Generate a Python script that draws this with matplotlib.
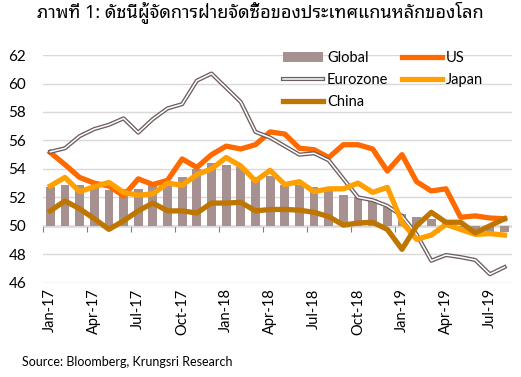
import matplotlib
matplotlib.use("Agg")
import matplotlib.pyplot as plt
import matplotlib.lines as mlines
import numpy as np

months = ["Jan-17", "Feb-17", "Mar-17", "Apr-17", "May-17", "Jun-17", "Jul-17", "Aug-17",
          "Sep-17", "Oct-17", "Nov-17", "Dec-17", "Jan-18", "Feb-18", "Mar-18", "Apr-18",
          "May-18", "Jun-18", "Jul-18", "Aug-18", "Sep-18", "Oct-18", "Nov-18", "Dec-18",
          "Jan-19", "Feb-19", "Mar-19", "Apr-19", "May-19", "Jun-19", "Jul-19", "Aug-19"]

global_pmi = [52.7, 52.9, 52.9, 52.7, 52.5, 52.6, 52.6, 53.1, 53.1, 53.4, 54.0, 54.4,
              54.3, 54.1, 53.4, 53.5, 52.9, 52.9, 52.7, 52.5, 52.2, 52.0, 51.9, 51.3,
              50.8, 50.6, 50.5, 50.4, 49.9, 49.7, 49.6, 49.6]
us = [55.15, 54.3, 53.4, 53.0, 52.8, 52.1, 53.3, 52.9, 53.2, 54.7, 54.1, 55.0,
      55.6, 55.4, 55.7, 56.6, 56.45, 55.45, 55.35, 54.8, 55.7, 55.7, 55.4, 53.85,
      55.0, 53.1, 52.45, 52.6, 50.6, 50.7, 50.55, 50.5]
eurozone = [55.2, 55.45, 56.3, 56.8, 57.1, 57.55, 56.55, 57.5, 58.25, 58.55, 60.2, 60.7,
            59.7, 58.7, 56.6, 56.2, 55.6, 55.0, 55.1, 54.6, 53.3, 52.0, 51.8, 51.4,
            50.7, 49.4, 47.55, 47.95, 47.8, 47.6, 46.6, 47.1]
japan = [52.8, 53.4, 52.4, 52.75, 53.05, 52.35, 52.15, 52.25, 53.0, 52.85, 53.6, 54.0,
         54.8, 54.2, 53.15, 53.9, 52.9, 53.1, 52.4, 52.6, 52.6, 53.0, 52.35, 52.7,
         50.25, 49.05, 49.35, 50.1, 49.75, 49.4, 49.45, 49.35]
china = [51.05, 51.75, 51.2, 50.5, 49.75, 50.35, 51.05, 51.6, 51.05, 51.05, 50.9, 51.6,
         51.6, 51.65, 51.05, 51.15, 51.15, 51.1, 50.95, 50.65, 50.05, 50.2, 50.25, 49.75,
         48.35, 50.0, 50.95, 50.25, 50.25, 49.5, 50.0, 50.5]

title = "ภาพที่ 1: ดัชนีผู้จัดการฝ่ายจัดซื้อของประเทศแกนหลักของโลก"
source = "Source: Bloomberg, Krungsri Research"

plt.rcParams["font.family"] = ["Lato", "DejaVu Sans"]

fig = plt.figure(figsize=(5.21, 3.77), dpi=100)
ax = fig.add_axes([0.0825, 0.25, 0.9, 0.604])

x = np.arange(len(months))
base = 50
bars = ax.bar(x, np.array(global_pmi) - base, bottom=base, width=0.6, color="#A69190", zorder=2)
l_us, = ax.plot(x, us, color="#FF6A00", lw=3.8, zorder=3)
l_ez, = ax.plot(x, eurozone, color="#6E5E5E", lw=3.0, zorder=3)
l_ez2, = ax.plot(x, eurozone, color="white", lw=1.1, zorder=3)
l_jp, = ax.plot(x, japan, color="#FFA000", lw=3.8, zorder=3)
l_cn, = ax.plot(x, china, color="#BF7600", lw=3.8, zorder=3)

ax.set_xlim(-0.5, len(months) - 0.5)
ax.set_ylim(46, 62)
ax.set_yticks(range(46, 63, 2))
ax.grid(axis="y", color="#D9D9D9", lw=1, zorder=0)
ax.axhline(base, color="#7F7F7F", lw=1, zorder=1)
for s in ax.spines.values():
    s.set_visible(False)
ax.tick_params(axis="y", length=0, labelsize=11, pad=12)
ax.set_xticks(x[::3])
ax.set_xticklabels(months[::3], rotation=90, fontsize=10.5)
ax.tick_params(axis="x", length=0, pad=4)

# tick marks on the 50 line, at the boundaries between quarters
sec = ax.secondary_xaxis((base - 46) / 16)
sec.set_xticks(np.arange(-0.5, len(months), 3))
sec.tick_params(length=4, color="#7F7F7F", labelbottom=False)
sec.spines["bottom"].set_visible(False)

# legend is filled column by column: Global/Eurozone/China, then US/Japan
ez_handle = (mlines.Line2D([], [], color="#6E5E5E", lw=3.0), mlines.Line2D([], [], color="white", lw=1.1))
handles = [bars, ez_handle, l_cn, l_us, l_jp]
labels = ["Global", "Eurozone", "China", "US", "Japan"]
ax.legend(handles, labels, ncol=2, loc="upper left", bbox_to_anchor=(0.483, 1.075), frameon=False,
          fontsize=10.5, handlelength=2.8, columnspacing=0.9, handletextpad=0.25, labelspacing=0.55)

fig.text(0.5, 0.955, title, fontsize=13, fontweight="bold", ha="center",
         family=["Noto Sans Thai Looped", "DejaVu Sans"])
fig.text(0.043, 0.03, source, fontsize=9)

fig.savefig("out.png", dpi=100)
